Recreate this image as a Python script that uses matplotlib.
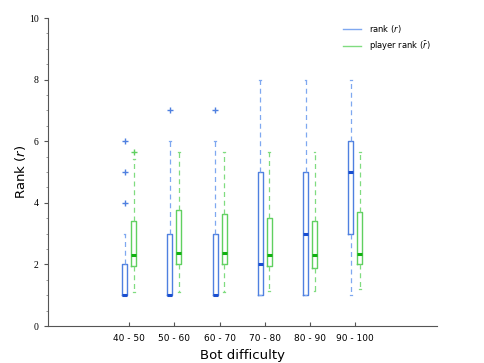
import matplotlib
matplotlib.use("Agg")
import matplotlib.pyplot as plt
from matplotlib.ticker import MultipleLocator

categories = ["40 - 50", "50 - 60", "60 - 70", "70 - 80", "80 - 90", "90 - 100"]

# bot rank (r): whislo, q1, median, q3, whishi, outliers
rank_whislo = [1, 1, 1, 1, 1, 1]
rank_q1     = [1, 1, 1, 1, 1, 3]
rank_med    = [1, 1, 1, 2, 3, 5]
rank_q3     = [2, 3, 3, 5, 5, 6]
rank_whishi = [3, 6, 6, 8, 8, 8]
rank_fliers = [[4, 5, 6], [7], [7], [], [], []]

# player rank (r bar)
prank_whislo = [1.11, 1.11, 1.11, 1.15, 1.15, 1.19]
prank_q1     = [1.95, 2.0, 2.0, 1.94, 1.87, 2.01]
prank_med    = [2.32, 2.36, 2.38, 2.32, 2.32, 2.35]
prank_q3     = [3.41, 3.76, 3.63, 3.5, 3.41, 3.69]
prank_whishi = [5.41, 5.64, 5.64, 5.64, 5.64, 5.64]
prank_fliers = [[5.64], [], [], [], [], []]


def make_stats(lo, q1, med, q3, hi, fl):
    return [dict(whislo=a, q1=b, med=c, q3=d, whishi=e, fliers=f)
            for a, b, c, d, e, f in zip(lo, q1, med, q3, hi, fl)]


def style(edge, light, med):
    return dict(
        showfliers=True, patch_artist=False, widths=0.11, showcaps=True,
        boxprops=dict(color=edge, linewidth=1.0),
        whiskerprops=dict(color=light, linewidth=0.9, linestyle=(0, (4, 3))),
        capprops=dict(color=light, linewidth=0.9),
        medianprops=dict(color=med, linewidth=2.2),
        flierprops=dict(marker="+", markeredgecolor=edge, markersize=5,
                        markeredgewidth=1.0, linestyle="none"),
    )


fig = plt.figure(figsize=(4.85, 3.63), dpi=100)
ax = fig.add_axes([47.7 / 485, 1 - 326 / 363, (436.7 - 47.7) / 485, (326 - 18) / 363])

pos = list(range(1, len(categories) + 1))
blue_edge, blue_light, blue_med = "#4f80e0", "#7fa8f0", "#1a4fd0"
green_edge, green_light, green_med = "#60d060", "#80dc80", "#12b012"

ax.bxp(make_stats(rank_whislo, rank_q1, rank_med, rank_q3, rank_whishi, rank_fliers),
       positions=[p - 0.1 for p in pos], capwidths=0.04,
       **style(blue_edge, blue_light, blue_med))
ax.bxp(make_stats(prank_whislo, prank_q1, prank_med, prank_q3, prank_whishi, prank_fliers),
       positions=[p + 0.1 for p in pos], capwidths=0.04,
       **style(green_edge, green_light, green_med))

ax.plot([], [], color=blue_light, lw=1, label=r"rank ($r$)")
ax.plot([], [], color=green_light, lw=1, label=r"player rank ($\bar{r}$)")
ax.legend(loc="upper left", frameon=False, fontsize=6, handlelength=2.2,
          handletextpad=0.9, borderpad=0, borderaxespad=0, labelspacing=0.55,
          bbox_to_anchor=(343 / 485, 1 - 23 / 363), bbox_transform=fig.transFigure)

ax.set_xlim(-0.8, 7.8)
ax.set_ylim(0, 10)
ax.set_xticks(pos)
ax.set_xticklabels(categories, fontsize=6.5)
ax.set_yticks(range(0, 11, 2))
ax.yaxis.set_minor_locator(MultipleLocator(0.5))
for lbl in ax.get_yticklabels():
    lbl.set_family("Liberation Serif")
    lbl.set_fontsize(7)
ax.tick_params(axis="x", direction="in", length=3, color="#555555", pad=6)
ax.tick_params(axis="y", which="major", direction="out", length=3, color="#555555")
ax.tick_params(axis="y", which="minor", direction="out", length=1.5, color="#888888")
for s in ["top", "right"]:
    ax.spines[s].set_visible(False)
for s in ["left", "bottom"]:
    ax.spines[s].set_color("#555555")
    ax.spines[s].set_linewidth(0.8)

ax.set_xlabel("Bot difficulty", fontsize=9.5, labelpad=4)
ax.set_ylabel(r"Rank ($r$)", fontsize=9.5, labelpad=1)

fig.savefig("out.png", dpi=100)
